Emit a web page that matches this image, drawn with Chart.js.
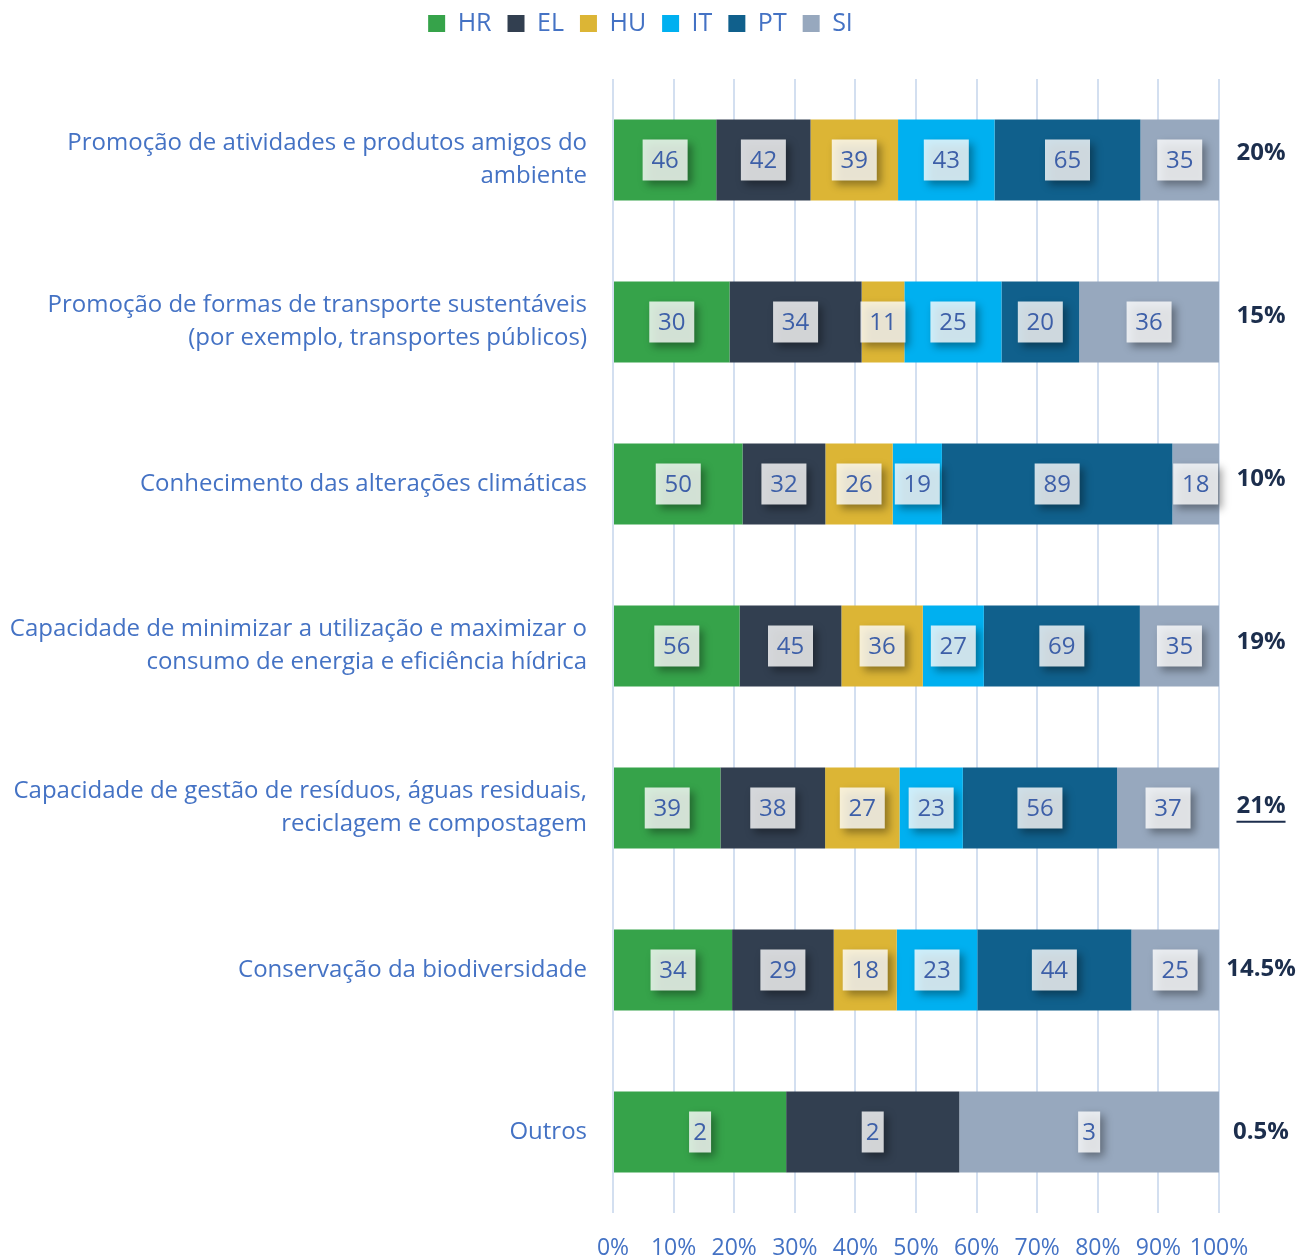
<!DOCTYPE html>
<html>
<head>
<meta charset="utf-8">
<script src="https://cdn.jsdelivr.net/npm/chart.js@4"></script>
<style>
  html, body { margin: 0; padding: 0; background: #fff; overflow: hidden; }
</style>
</head>
<body>
<canvas id="myChart" width="1298" height="1259"></canvas>
<script>
'use strict';

let categories = [
  ['Promoção de atividades e produtos amigos do', 'ambiente'],
  ['Promoção de formas de transporte sustentáveis', '(por exemplo, transportes públicos)'],
  'Conhecimento das alterações climáticas',
  ['Capacidade de minimizar a utilização e maximizar o', 'consumo de energia e eficiência hídrica'],
  ['Capacidade de gestão de resíduos, águas residuais,', 'reciclagem e compostagem'],
  'Conservação da biodiversidade',
  'Outros'
];

let countries = ['HR', 'EL', 'HU', 'IT', 'PT', 'SI'];
let colors = ['#36a34a', '#323f50', '#dcb535', '#00b0f0', '#10608c', '#97a8be'];

let hrValues = [46, 30, 50, 56, 39, 34, 2];
let elValues = [42, 34, 32, 45, 38, 29, 2];
let huValues = [39, 11, 26, 36, 27, 18, 0];
let itValues = [43, 25, 19, 27, 23, 23, 0];
let ptValues = [65, 20, 89, 69, 56, 44, 0];
let siValues = [35, 36, 18, 35, 37, 25, 3];

let shareLabels = ['20%', '15%', '10%', '19%', '21%', '14.5%', '0.5%'];
let underlined = [false, false, false, false, true, false, false];

let xTicks = [0, 10, 20, 30, 40, 50, 60, 70, 80, 90, 100];

const blue = '#4472c4';
const font = '"Open Sans", "Noto Sans", sans-serif';

let allSeries = [hrValues, elValues, huValues, itValues, ptValues, siValues];
let totals = categories.map((c, i) => allSeries.reduce((s, arr) => s + arr[i], 0));

let datasets = [];
for (let k = 0; k < countries.length; k++) {
  datasets.push({
    label: countries[k],
    raw: allSeries[k],
    data: allSeries[k].map((v, i) => v / totals[i] * 100),
    backgroundColor: colors[k],
    borderWidth: 0,
    barPercentage: 1,
    categoryPercentage: 0.5
  });
}

// value boxes inside each segment + share label on the right
const labelPlugin = {
  id: 'labelPlugin',
  beforeInit(chart) {
    const origFit = chart.legend.fit;
    chart.legend.fit = function () {
      origFit.bind(chart.legend)();
      this.height = 79;
    };
  },
  afterUpdate(chart) {
    // nudge the legend to where it sits in the original
    chart.legend.left += 31;
    chart.legend.right += 31;
    chart.legend.top -= 5;
  },
  afterDatasetsDraw(chart) {
    const ctx = chart.ctx;
    ctx.save();
    ctx.font = '24px ' + font;
    ctx.textAlign = 'center';
    ctx.textBaseline = 'middle';
    chart.data.datasets.forEach((ds, di) => {
      const meta = chart.getDatasetMeta(di);
      meta.data.forEach((bar, i) => {
        const v = ds.raw[i];
        if (!v) return;
        const cx = (bar.x + bar.base) / 2;
        const cy = bar.y;
        const tw = ctx.measureText(String(v)).width;
        const w = Math.round(tw * 1.63);
        const h = 41;
        ctx.save();
        ctx.shadowColor = 'rgba(0,0,0,0.45)';
        ctx.shadowBlur = 8;
        ctx.shadowOffsetX = 4;
        ctx.shadowOffsetY = 4;
        ctx.fillStyle = 'rgba(255,255,255,0.8)';
        ctx.fillRect(cx - w / 2, cy - h / 2, w, h);
        ctx.restore();
        ctx.fillStyle = '#3d5fa8';
        ctx.fillText(String(v), cx, cy + 1);
      });
    });

    const meta0 = chart.getDatasetMeta(0);
    ctx.font = 'bold 24px ' + font;
    ctx.fillStyle = '#1c2e4d';
    ctx.strokeStyle = '#1c2e4d';
    ctx.lineWidth = 2;
    meta0.data.forEach((bar, i) => {
      const x = 1261;
      const y = bar.y - 7 + i * 1.17;
      ctx.fillText(shareLabels[i], x, y);
      if (underlined[i]) {
        const tw = ctx.measureText(shareLabels[i]).width;
        ctx.beginPath();
        ctx.moveTo(x - tw / 2, y + 16);
        ctx.lineTo(x + tw / 2, y + 16);
        ctx.stroke();
      }
    });
    ctx.restore();
  }
};

const ctx = document.getElementById('myChart').getContext('2d');

new Chart(ctx, {
  type: 'bar',
  data: { labels: categories, datasets: datasets },
  plugins: [labelPlugin],
  options: {
    indexAxis: 'y',
    responsive: false,
    animation: false,
    layout: { padding: { left: 0, right: 79, top: 0, bottom: 0 } },
    plugins: {
      tooltip: { enabled: false },
      legend: {
        position: 'top',
        labels: {
          boxWidth: 17,
          boxHeight: 17,
          padding: 16,
          color: blue,
          font: { family: font, size: 25 }
        }
      }
    },
    scales: {
      x: {
        stacked: true,
        min: 0,
        max: 100,
        afterBuildTicks(scale) {
          scale.ticks = xTicks.map(v => ({ value: v }));
        },
        afterFit(scale) {
          scale.height = 46;
          scale.paddingLeft = 0;
          scale.paddingRight = 0;
        },
        ticks: {
          color: blue,
          padding: 22,
          maxRotation: 0,
          autoSkip: false,
          font: { family: font, size: 23 },
          callback: v => v + '%'
        },
        grid: { color: '#d3dff0', lineWidth: 2, drawTicks: false },
        border: { display: false }
      },
      y: {
        stacked: true,
        afterFit(scale) {
          scale.width = 613;
          scale.paddingTop = 0;
          scale.paddingBottom = 0;
        },
        ticks: {
          color: blue,
          padding: 26,
          font: { family: font, size: 24, lineHeight: 1.375 }
        },
        grid: { display: false, drawTicks: false },
        border: { display: false }
      }
    }
  }
});
</script>
</body>
</html>
